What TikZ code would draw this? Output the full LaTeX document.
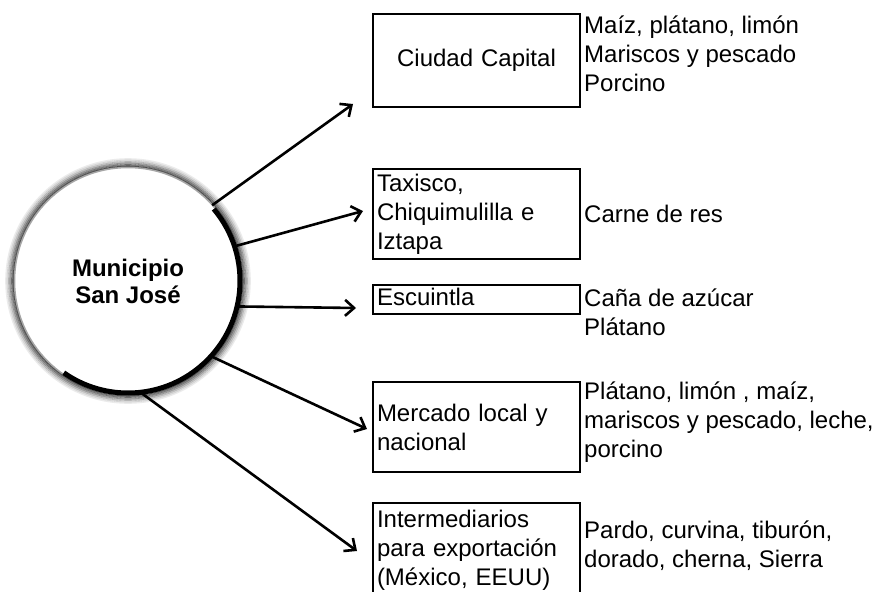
\documentclass[tikz,border=0pt]{standalone}
\usepackage{fontspec}
\setmainfont{Liberation Sans}
\usetikzlibrary{arrows.meta}
\begin{document}
\begin{tikzpicture}[x=1pt,y=-1pt,
  box/.style={draw=black, line width=1.8pt, rectangle, minimum width=207pt,
    text width=199pt, inner sep=4pt, align=left, font=\fontsize{24}{29}\selectfont},
  prod/.style={anchor=north west, inner sep=0pt, align=left, font=\fontsize{24}{29}\selectfont},
  conn/.style={line width=2.6pt, -{Straight Barb[length=9pt,width=16pt,line width=2.6pt]}}
]
\useasboundingbox (0,0) rectangle (893,591);
% central circle with fuzzy halo
\coordinate (cc) at (128,281);
\foreach \r/\o in {122/0.08,120.5/0.15,119/0.25,117.5/0.38,116/0.5,114.5/0.65}
  \draw[black, opacity=\o, line width=1.6pt] (cc) circle (\r);
\fill[white] (cc) circle (113.5);
\draw[gray!70, line width=1.5pt] (cc) circle (113.5);
\draw[black, line width=5pt] ([shift={(-40:112)}]cc) arc[start angle=-40, end angle=125, radius=112];
\node[circle, minimum size=226pt, inner sep=0pt, align=center,
  font=\fontsize{24}{27}\selectfont\bfseries] (c) at (cc) {Municipio\\San José};

% destination boxes
\node[box, minimum height=93pt, align=center] (b1) at (476.5,60.5) {Ciudad Capital};
\node[box, minimum height=90pt] (b2) at (476.5,214) {Taxisco,\\Chiquimulilla e\\Iztapa};
\node[box, minimum height=21pt, inner sep=0pt, text width=199pt] (b3) at (476.5,299.5) {\strut Escuintla};
\node[box, minimum height=90pt] (b4) at (476.5,427) {Mercado local y\\nacional};
\node[box, minimum height=94pt] (b5) at (476.5,550) {Intermediarios\\para exportación\\(México, EEUU)};

% products
\node[prod] (p1) at (584,16) {Maíz, plátano, limón\\Mariscos y pescado\\Porcino};
\node[prod, anchor=west] (p2) at (584,214) {Carne de res};
\node[prod] (p3) at (584,289) {Caña de azúcar\\Plátano};
\node[prod] (p4) at (584,382) {Plátano, limón , maíz,\\mariscos y pescado, leche,\\porcino};
\node[prod] (p5) at (584,521) {Pardo, curvina, tiburón,\\dorado, cherna, Sierra};

% arrows
\coordinate (t1) at (353,104);
\coordinate (t2) at (363,211);
\coordinate (t3) at (356,308);
\coordinate (t4) at (367,429);
\coordinate (t5) at (357,551);
\draw[conn] (c.42) -- (t1);
\draw[conn] (c.18) -- (t2);
\draw[conn] (c.-13) -- (t3);
\draw[conn] (c.-42) -- (t4);
\draw[conn] (c.-83) -- (t5);
\end{tikzpicture}
\end{document}
